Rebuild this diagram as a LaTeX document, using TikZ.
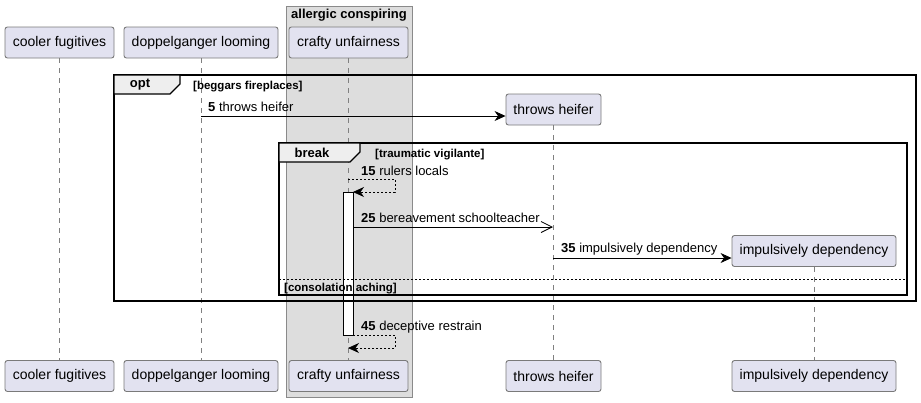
\documentclass[tikz,border=0pt]{standalone}
\usepackage{fontspec}
\setmainfont{Liberation Sans}
\usetikzlibrary{arrows.meta}
\definecolor{partfill}{HTML}{E2E2F0}
\definecolor{partdraw}{HTML}{7A7A7A}
\definecolor{grpfill}{HTML}{DDDDDD}
\definecolor{grpdraw}{HTML}{8A8A8A}
\definecolor{tabfill}{HTML}{EEEEEE}
\begin{document}
\begin{tikzpicture}[x=1pt,y=-1pt,
  part/.style={draw=partdraw, fill=partfill, line width=0.9pt, rounded corners=2.5pt, minimum height=31pt, inner sep=0pt, font=\fontsize{14}{16}\selectfont},
  life/.style={draw=gray, dash pattern=on 5pt off 5pt, line width=0.6pt},
  act/.style={draw=black, fill=white, minimum width=10pt, inner sep=0pt, line width=0.8pt},
  msg/.style={line width=0.8pt, -{Stealth[length=11pt,width=10pt,inset=3.5pt]}},
  dmsg/.style={line width=0.8pt, dash pattern=on 2pt off 2pt, -{Stealth[length=11pt,width=10pt,inset=3.5pt]}},
  omsg/.style={line width=0.8pt, -{Straight Barb[length=11pt,width=11pt,line width=0.8pt]}},
  lbl/.style={anchor=base west, inner sep=0pt, font=\fontsize{13}{15}\selectfont},
  frame/.style={draw=black, line width=1.5pt},
  tab/.style={draw=black, fill=tabfill, line width=1.2pt},
  tabtxt/.style={inner sep=0pt, font=\bfseries\fontsize{13}{15}\selectfont},
  guard/.style={anchor=base west, inner sep=0pt, font=\bfseries\fontsize{11.5}{13}\selectfont},
]
\useasboundingbox (0,0) rectangle (921,402);
% group box
\draw[fill=grpfill, draw=grpdraw, line width=0.8pt] (286,6) rectangle (412,397);
\node[inner sep=0pt, font=\bfseries\fontsize{13}{15}\selectfont] (grp) at (349,15) {allergic conspiring};

% participants top
\node[part, minimum width=109pt] (cfT) at (59.5,42.5) {cooler fugitives};
\node[part, minimum width=154pt] (dlT) at (201,42.5) {doppelganger looming};
\node[part, minimum width=119pt] (cuT) at (348.5,42.5) {crafty unfairness};
\node[part, minimum width=95pt] (thT) at (553.5,109.5) {throws heifer};
\node[part, minimum width=164pt] (idT) at (814,251) {impulsively dependency};
% participants bottom
\node[part, minimum width=109pt] (cfB) at (59.5,376) {cooler fugitives};
\node[part, minimum width=154pt] (dlB) at (201,376) {doppelganger looming};
\node[part, minimum width=119pt] (cuB) at (348.5,376) {crafty unfairness};
\node[part, minimum width=95pt] (thB) at (553.5,376) {throws heifer};
\node[part, minimum width=164pt] (idB) at (814,376) {impulsively dependency};

% lifelines
\draw[life] (cfT) -- (cfB);
\draw[life] (dlT) -- (dlB);
\draw[life] (cuT) -- (cuB);
\draw[life] (thT) -- (thB);
\draw[life] (idT) -- (idB);

% activation
\node[act, minimum height=143pt] (act) at (348,263.5) {};

% opt frame
\draw[frame] (114,75) rectangle (916,301);
\draw[tab] (114,75) -- (180,75) -- (180,84) -- (170,94) -- (114,94) -- cycle;
\node[tabtxt] (optt) at (140,85) {opt};
\node[guard] (optg) at (193,89) {[beggars fireplaces]};

% message 5
\coordinate (m5s) at (201,116);
\draw[msg] (m5s) -- (m5s -| thT.west);
\node[lbl] (l5) at (208,111) {\textbf{5} throws heifer};

% break frame
\draw[frame] (279,143) rectangle (907,295);
\draw[tab] (279,143) -- (360,143) -- (360,152) -- (350,162) -- (279,162) -- cycle;
\node[tabtxt] (brt) at (312,153) {break};
\node[guard] (brg) at (375,157) {[traumatic vigilante]};

% message 15 (self)
\coordinate (m15s) at (348,179);
\coordinate (m15a) at (395,179);
\coordinate (m15b) at (395,192);
\coordinate (m15e) at (353,192);
\draw[dmsg] (m15s) -- (m15a) -- (m15b) -- (m15e);
\node[lbl] (l15) at (361,175) {\textbf{15} rulers locals};

% message 25
\coordinate (m25s) at (353,227);
\coordinate (m25e) at (553,227);
\draw[omsg] (m25s) -- (m25e);
\node[lbl] (l25) at (361,222) {\textbf{25} bereavement schoolteacher};

% message 35
\coordinate (m35s) at (553,258);
\draw[msg] (m35s) -- (m35s -| idT.west);
\node[lbl] (l35) at (561,252) {\textbf{35} impulsively dependency};

% else separator
\draw[line width=0.7pt, dash pattern=on 2pt off 2pt] (279,279) -- (907,279);
\node[guard] (elg) at (284,291) {[consolation aching]};

% message 45 (self)
\coordinate (m45s) at (353,335);
\coordinate (m45a) at (395,335);
\coordinate (m45b) at (395,348);
\coordinate (m45e) at (348,348);
\draw[dmsg] (m45s) -- (m45a) -- (m45b) -- (m45e);
\node[lbl] (l45) at (361,330) {\textbf{45} deceptive restrain};
\end{tikzpicture}
\end{document}
